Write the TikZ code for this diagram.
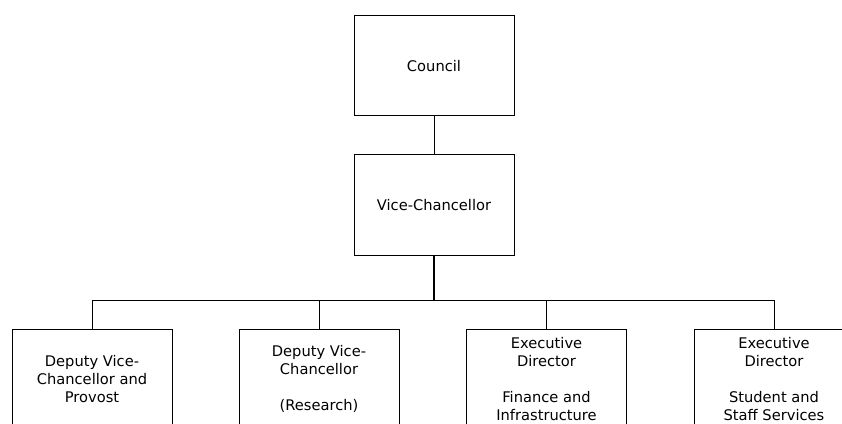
\documentclass[tikz,border=0pt]{standalone}
\usepackage{fontspec}
\setmainfont{DejaVu Sans}
\begin{document}
\begin{tikzpicture}[x=0.75pt,y=-0.75pt,
  unit/.style={draw=black,line width=0.75pt,minimum width=120pt,minimum height=75pt,
    inner sep=0pt,align=center,font=\fontsize{11}{13.4}\selectfont},
  link/.style={line width=0.75pt},
  trunk/.style={line width=1.6pt}]
\useasboundingbox (0,0) rectangle (842,424);
\clip (0,0) rectangle (842,424);
% top of the hierarchy
\node[unit] (council) at (434,66) {Council};
\node[unit] (vc) at (434,205) {Vice-Chancellor};
% reporting units
\node[unit] (dvcp) at (92,379) {Deputy Vice-\\Chancellor and\\Provost};
\node[unit] (dvcr) at (319,379) {Deputy Vice-\\Chancellor\\ \\(Research)};
\node[unit] (edfi) at (546.5,379) {Executive\\Director\\ \\Finance and\\Infrastructure};
\node[unit] (edss) at (774,379) {Executive\\Director\\ \\Student and\\Staff Services};
% connectors
\coordinate (bar) at (434,300);
\draw[link] (council) -- (vc);
\draw[trunk] (vc.south) -- (bar);
\draw[link] (dvcp.north) |- (bar);
\draw[link] (edss.north) |- (bar);
\draw[link] (dvcr.north) -- (dvcr.north |- bar);
\draw[link] (edfi.north) -- (edfi.north |- bar);
\end{tikzpicture}
\end{document}
